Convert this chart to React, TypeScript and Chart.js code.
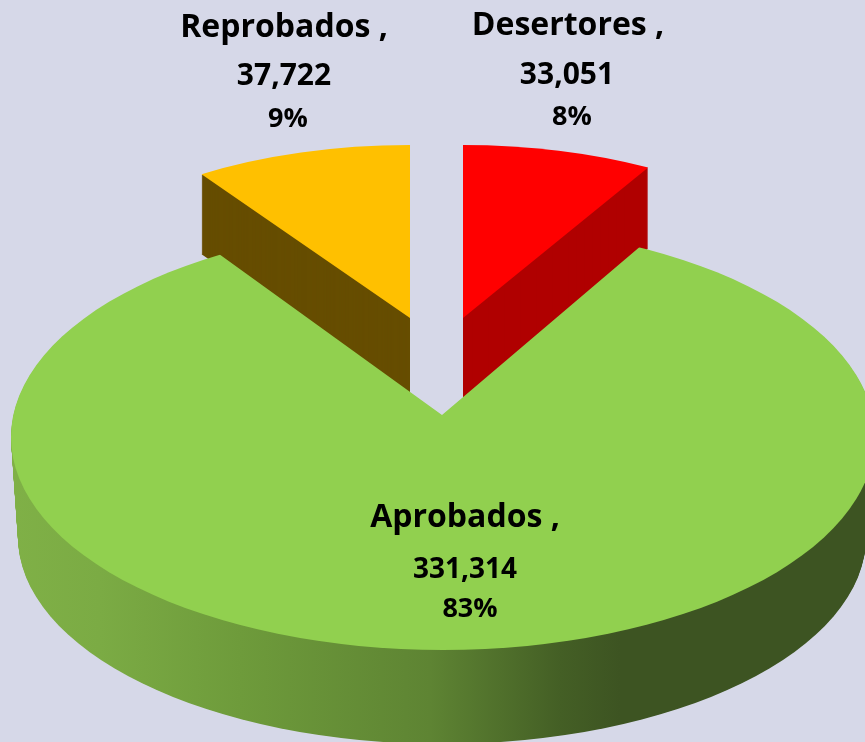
import React, { useEffect, useRef } from "react";
import { Chart, registerables } from "chart.js";

Chart.register(...registerables);

const categories = ["Desertores", "Aprobados", "Reprobados"];
const values = [33051, 331314, 37722];
const valueLabels = ["33,051", "331,314", "37,722"];
const percentLabels = ["8%", "83%", "9%"];
const topColors = ["#FF0000", "#91D04F", "#FFC000"];
const wallColors = ["#B00000", "#91D04F", "#664D00"];

const BG = "#D6D8E8";
const FONT = '"Open Sans"';
const BASE_RADIUS = 200;

// Projection of each exploded wedge: apex, horizontal/vertical radii, wall depth.
const view = [
  { ax: 463, ay: 318, rx: 375, ry: 173, depth: 81 },
  { ax: 442, ay: 415, rx: 640, ry: 309, depth: 100 },
  { ax: 410, ay: 318, rx: 375, ry: 173, depth: 80 },
];
// Rim of the large wedge, narrowing towards the bottom of its wall.
const rim = { cx: 443, cxBottom: 442, cy: 437, rx: 432, ry: 213, rxBottom: 424, ryBottom: 207 };

const labelLayout = [
  { x: [568, 567, 572], y: [35, 84, 125], size: [32, 30, 27] },
  { x: [465, 465, 470], y: [527, 578, 617], size: [32, 28, 27] },
  { x: [284, 284, 288], y: [37, 85, 127], size: [32, 30, 27] },
];

const greenWallStops: [number, string][] = [
  [0, "#80B147"],
  [100, "#7BAB44"],
  [240, "#6E9B3B"],
  [430, "#5E8433"],
  [560, "#445F25"],
  [620, "#3D5422"],
  [865, "#3D5422"],
];

function drawWedge(ctx: CanvasRenderingContext2D, arc: any, i: number, drop: number, fill: any) {
  const v = view[i];
  ctx.save();
  ctx.translate(v.ax, v.ay + drop);
  ctx.scale(v.rx / BASE_RADIUS, v.ry / BASE_RADIUS);
  ctx.translate(-arc.x, -arc.y);
  const saved = arc.options;
  arc.options = { ...saved, backgroundColor: fill };
  arc.draw(ctx);
  arc.options = saved;
  ctx.restore();
}

function clipRim(ctx: CanvasRenderingContext2D, t: number) {
  const v = view[1];
  ctx.beginPath();
  ctx.ellipse(
    rim.cx + t * (rim.cxBottom - rim.cx),
    rim.cy + t * v.depth,
    rim.rx + t * (rim.rxBottom - rim.rx),
    rim.ry + t * (rim.ryBottom - rim.ry),
    0,
    0,
    Math.PI * 2
  );
  ctx.clip();
}

const pie3d = {
  id: "pie3d",
  beforeDatasetsDraw(chart: any) {
    const ctx: CanvasRenderingContext2D = chart.ctx;
    const arcs = chart.getDatasetMeta(0).data;
    const green = view[1];

    const a = arcs[1];
    const toLocal = (X: number) => a.x + ((X - green.ax) * BASE_RADIUS) / green.rx;
    const grad = ctx.createLinearGradient(toLocal(0), 0, toLocal(865), 0);
    greenWallStops.forEach(([x, c]) => grad.addColorStop(x / 865, c));

    for (let d = green.depth; d >= 1; d--) {
      ctx.save();
      clipRim(ctx, d / green.depth);
      drawWedge(ctx, a, 1, d, grad);
      ctx.restore();
    }

    [2, 0].forEach((i) => {
      for (let d = view[i].depth; d >= 1; d--) drawWedge(ctx, arcs[i], i, d, wallColors[i]);
      drawWedge(ctx, arcs[i], i, 0, topColors[i]);
    });

    ctx.save();
    clipRim(ctx, 0);
    drawWedge(ctx, a, 1, 0, topColors[1]);
    ctx.restore();
    return false;
  },
  afterDraw(chart: any) {
    const ctx: CanvasRenderingContext2D = chart.ctx;
    ctx.save();
    ctx.fillStyle = "#000000";
    ctx.textAlign = "center";
    ctx.textBaseline = "alphabetic";
    categories.forEach((name, i) => {
      const l = labelLayout[i];
      [`${name} ,`, valueLabels[i], percentLabels[i]].forEach((text, k) => {
        ctx.font = `bold ${l.size[k]}px ${FONT}`;
        ctx.fillText(text, l.x[k], l.y[k]);
      });
    });
    ctx.restore();
  },
};

export default function App() {
  const ref = useRef<HTMLCanvasElement>(null);
  useEffect(() => {
    document.body.style.margin = "0";
    document.body.style.background = BG;
    document.body.style.overflow = "hidden";
    const chart = new Chart(ref.current!, {
      type: "pie",
      data: {
        labels: categories,
        datasets: [{ data: values, backgroundColor: topColors, borderWidth: 0 }],
      },
      options: {
        responsive: false,
        animation: false,
        radius: BASE_RADIUS,
        plugins: { legend: { display: false }, tooltip: { enabled: false } },
      } as any,
      plugins: [pie3d],
    });
    return () => chart.destroy();
  }, []);
  return <canvas ref={ref} width={865} height={742} style={{ display: "block", background: BG }} />;
}
